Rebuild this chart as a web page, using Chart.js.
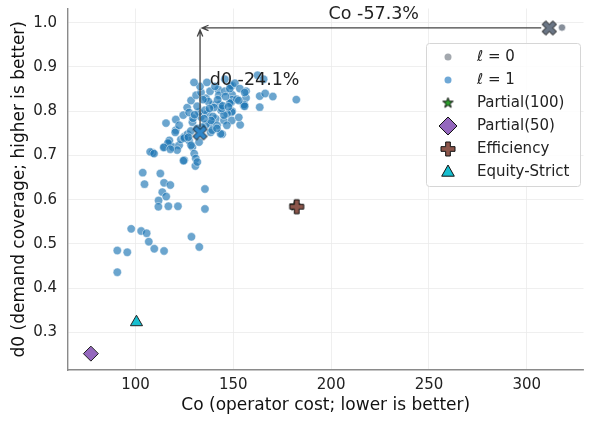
<!DOCTYPE html>
<html>
<head>
<meta charset="utf-8">
<script src="https://cdn.jsdelivr.net/npm/chart.js@4.4.1/dist/chart.umd.min.js"></script>
<style>
  html, body { margin: 0; padding: 0; background: #fff; }
  #wrap { width: 592px; height: 422px; }
</style>
</head>
<body>
<div id="wrap"><canvas id="c" width="592" height="422"></canvas></div>
<script>
//______________________________________________________
// data
var L1Co = [
  162.4, 165.5, 163.5, 166.3, 170.2, 182.2, 163.5, 153.5, 155.3, 156.5,
  156.5, 149.4, 149.4, 149.4, 149.4, 142.3, 144.3, 138.4, 126.4, 120.6,
  115.6, 120.6, 155.5, 148.6, 149.0, 149.2, 108.8, 114.7, 117.3, 119.0,
  122.3, 123.2, 124.9, 126.6, 128.3, 127.4, 129.1, 130.0, 130.8, 124.9,
  129.1, 133.4, 132.5, 136.7, 141.0, 138.4, 141.7, 143.5, 139.2, 145.2,
  146.8, 128.4, 131.0, 133.5, 136.0, 138.1, 140.6, 142.6, 145.7, 148.2,
  150.8, 153.3, 131.5, 135.5, 139.6, 143.7, 148.2, 151.8, 124.4, 129.4,
  139.6, 145.2, 149.2, 152.8, 122.3, 131.5, 136.0, 141.6, 146.7, 133.0,
  129.9, 145.7, 152.8, 155.8, 155.8, 136.5, 143.1, 138.6, 127.4, 120.3,
  117.3, 124.9, 128.4, 132.5, 121.3, 107.5, 109.5, 103.7, 104.6, 112.7,
  114.6, 117.8, 113.7, 115.7, 111.8, 111.7, 116.8, 121.7, 135.5, 135.5,
  124.5, 130.6, 131.6, 116.6, 114.4, 117.8, 97.8, 102.9, 105.7, 106.8,
  109.6, 114.6, 90.7, 95.8, 90.7, 128.6, 132.6, 134.0, 127.0, 144.0,
  137.2, 140.1, 134.5, 146.0, 142.0, 137.8, 130.2, 135.0, 144.6, 147.5
];
var L1D0 = [
  0.881, 0.872, 0.834, 0.840, 0.833, 0.826, 0.809, 0.769, 0.812, 0.830,
  0.845, 0.858, 0.837, 0.826, 0.800, 0.849, 0.748, 0.752, 0.808, 0.781,
  0.773, 0.757, 0.815, 0.858, 0.820, 0.798, 0.706, 0.719, 0.727, 0.719,
  0.723, 0.736, 0.742, 0.748, 0.755, 0.733, 0.719, 0.704, 0.693, 0.689,
  0.775, 0.787, 0.798, 0.794, 0.783, 0.772, 0.768, 0.749, 0.757, 0.779,
  0.794, 0.824, 0.836, 0.842, 0.829, 0.845, 0.856, 0.836, 0.845, 0.851,
  0.863, 0.851, 0.811, 0.802, 0.815, 0.802, 0.818, 0.827, 0.791, 0.784,
  0.788, 0.791, 0.779, 0.786, 0.768, 0.761, 0.770, 0.761, 0.768, 0.856,
  0.865, 0.872, 0.824, 0.842, 0.811, 0.865, 0.815, 0.779, 0.797, 0.752,
  0.734, 0.739, 0.723, 0.730, 0.712, 0.708, 0.704, 0.661, 0.635, 0.659,
  0.638, 0.633, 0.617, 0.607, 0.598, 0.584, 0.585, 0.585, 0.624, 0.579,
  0.688, 0.676, 0.685, 0.728, 0.718, 0.714, 0.534, 0.529, 0.524, 0.505,
  0.489, 0.484, 0.485, 0.481, 0.436, 0.516, 0.493, 0.764, 0.741, 0.806,
  0.822, 0.808, 0.826, 0.833, 0.826, 0.806, 0.792, 0.783, 0.812, 0.810
];
var L0Co = [318.0, 311.5];
var L0D0 = [0.989, 0.988];

var Partial100 = [181.5, 0.586];
var Partial50  = [77.2, 0.252];
var Efficiency = [182.4, 0.584];
var EquityStrict = [100.5, 0.323];
var BestL0 = [311.5, 0.988];
var BestL1 = [133.0, 0.751];

var CoTicks = [100, 150, 200, 250, 300];
var D0Ticks = [0.3, 0.4, 0.5, 0.6, 0.7, 0.8, 0.9, 1.0];
var CoLabel = 'Co -57.3%';
var D0Label = 'd0 -24.1%';
const FontName = '"DejaVu Sans", sans-serif';

//______________________________________________________
function toPoints (xs, ys) {
    var pts = [];
    for (var i = 0; i < xs.length; i++) pts.push({x: xs[i], y: ys[i]});
    return pts;
}
//______________________________________________________
function makeMarker (shape, size, fill) { // filled marker drawn to a small canvas
    var pad = 2;
    var cv = document.createElement('canvas');
    cv.width = size + pad*2; cv.height = size + pad*2;
    var ctx = cv.getContext('2d');
    var c = cv.width / 2, r = size / 2;
    ctx.beginPath();
    if (shape === 'star') {
        for (var i = 0; i < 10; i++) {
            var rr = (i % 2 === 0) ? r : r*0.4;
            var a = -Math.PI/2 + i*Math.PI/5;
            ctx.lineTo(c + rr*Math.cos(a), c + rr*Math.sin(a));
        }
    } else { // plus or X : a plus polygon, maybe rotated
        var t = r/3;
        var poly = [[-t,-r],[t,-r],[t,-t],[r,-t],[r,t],[t,t],[t,r],[-t,r],[-t,t],[-r,t],[-r,-t],[-t,-t]];
        var rot = (shape === 'X') ? Math.PI/4 : 0;
        poly.forEach(function(p) {
            var px = p[0]*Math.cos(rot) - p[1]*Math.sin(rot);
            var py = p[0]*Math.sin(rot) + p[1]*Math.cos(rot);
            ctx.lineTo(c + px, c + py);
        });
    }
    ctx.closePath();
    ctx.fillStyle = fill;
    ctx.fill();
    ctx.lineWidth = 1;
    ctx.strokeStyle = '#111';
    ctx.stroke();
    return cv;
}
//______________________________________________________
var legendPlugin = { // boxed legend inside the plot, top right
    id: 'boxLegend',
    afterDraw: function(chart) {
        var ctx = chart.ctx;
        var x0 = 426, y0 = 43, w = 154, h = 143;
        ctx.save();
        ctx.fillStyle = 'rgba(255,255,255,0.85)';
        ctx.strokeStyle = '#d6d6d6';
        ctx.lineWidth = 1;
        ctx.beginPath();
        ctx.roundRect(x0 + 0.5, y0 + 0.5, w, h, 3);
        ctx.fill(); ctx.stroke();
        var rowY = y0 + 14;
        chart.data.datasets.forEach(function(ds) {
            if (!ds.legendText) return;
            var mx = x0 + 22;
            if (ds.pointStyle instanceof HTMLCanvasElement) {
                var im = ds.legendImg || ds.pointStyle;
                ctx.drawImage(im, mx - im.width/2, rowY - im.height/2);
            } else if (ds.pointStyle === 'circle') {
                ctx.beginPath();
                ctx.arc(mx, rowY, 3.5, 0, Math.PI*2);
                ctx.fillStyle = ds.legendColor;
                ctx.fill();
            } else {
                ctx.beginPath();
                var r = ds.legendRadius;
                if (ds.pointStyle === 'rectRot') {
                    ctx.moveTo(mx, rowY - r); ctx.lineTo(mx + r, rowY);
                    ctx.lineTo(mx, rowY + r); ctx.lineTo(mx - r, rowY);
                } else {
                    ctx.moveTo(mx, rowY - r); ctx.lineTo(mx + r*0.9, rowY + r*0.6);
                    ctx.lineTo(mx - r*0.9, rowY + r*0.6);
                }
                ctx.closePath();
                ctx.fillStyle = ds.backgroundColor;
                ctx.fill();
                ctx.strokeStyle = '#111'; ctx.lineWidth = 1; ctx.stroke();
            }
            ctx.fillStyle = '#222';
            ctx.textBaseline = 'middle';
            var tx = x0 + 51;
            if (ds.legendMath) {
                ctx.font = 'italic 15px ' + FontName;
                ctx.fillText('ℓ', tx, rowY);
                tx += ctx.measureText('ℓ').width;
                ctx.font = '15px ' + FontName;
                ctx.fillText(' = ' + ds.legendMath, tx, rowY);
            } else {
                ctx.font = '15px ' + FontName;
                ctx.fillText(ds.legendText, tx, rowY);
            }
            rowY += 23;
        });
        ctx.restore();
    }
};
//______________________________________________________
function drawArrow (ctx, x1, y1, x2, y2) {
    var a = Math.atan2(y2 - y1, x2 - x1), hl = 7;
    ctx.beginPath();
    ctx.moveTo(x1, y1); ctx.lineTo(x2, y2);
    ctx.moveTo(x2 - hl*Math.cos(a - 0.4), y2 - hl*Math.sin(a - 0.4));
    ctx.lineTo(x2, y2);
    ctx.lineTo(x2 - hl*Math.cos(a + 0.4), y2 - hl*Math.sin(a + 0.4));
    ctx.stroke();
}
var arrowPlugin = { // the two improvement arrows and their texts
    id: 'arrows',
    afterDatasetsDraw: function(chart) {
        var ctx = chart.ctx, sx = chart.scales.x, sy = chart.scales.y;
        var x0 = sx.getPixelForValue(BestL0[0]), y0 = sy.getPixelForValue(BestL0[1]);
        var x1 = sx.getPixelForValue(BestL1[0]), y1 = sy.getPixelForValue(BestL1[1]);
        ctx.save();
        ctx.strokeStyle = '#444';
        ctx.lineWidth = 1.3;
        drawArrow(ctx, x0 - 8, y0, x1 + 2, y0);
        drawArrow(ctx, x1, y1 - 6, x1, y0 + 2);
        ctx.fillStyle = '#222';
        ctx.font = '17.5px ' + FontName;
        ctx.textAlign = 'center';
        ctx.textBaseline = 'middle';
        ctx.fillText(CoLabel, sx.getPixelForValue(221.8), sy.getPixelForValue(1.018));
        ctx.fillText(D0Label, sx.getPixelForValue(160.9), sy.getPixelForValue(0.869));
        ctx.restore();
    }
};
//______________________________________________________
var starImg  = makeMarker('star', 11, '#2ca02c');
var plusImg  = makeMarker('plus', 14, '#8c564b');
var xL0Img   = makeMarker('X', 15, '#6b7685');
var xL1Img   = makeMarker('X', 15, '#2f86c9');

var datasets = [
    { label: 'l0', legendText: 'l0', legendMath: '0', data: toPoints(L0Co, L0D0),
      pointStyle: 'circle', pointRadius: 3.6, backgroundColor: 'rgba(95,105,120,0.75)',
      borderColor: '#fff', borderWidth: 0.6, legendColor: '#a3a8ae', order: 9 },
    { label: 'l1', legendText: 'l1', legendMath: '1', data: toPoints(L1Co, L1D0),
      pointStyle: 'circle', pointRadius: 4.2, backgroundColor: 'rgba(31,119,180,0.66)',
      borderColor: 'rgba(255,255,255,0.8)', borderWidth: 0.6, legendColor: '#6fa8d6', order: 10 },
    { label: 'Partial(100)', legendText: 'Partial(100)', data: [{x: Partial100[0], y: Partial100[1]}],
      pointStyle: starImg, order: 8 },
    { label: 'Partial(50)', legendText: 'Partial(50)', data: [{x: Partial50[0], y: Partial50[1]}],
      pointStyle: 'rectRot', pointRadius: 7.5, backgroundColor: '#9467bd', borderColor: '#222',
      borderWidth: 1, legendRadius: 9, order: 7 },
    { label: 'Efficiency', legendText: 'Efficiency', data: [{x: Efficiency[0], y: Efficiency[1]}],
      pointStyle: plusImg, order: 6 },
    { label: 'Equity-Strict', legendText: 'Equity-Strict', data: [{x: EquityStrict[0], y: EquityStrict[1]}],
      pointStyle: 'triangle', pointRadius: 7, backgroundColor: '#17becf', borderColor: '#222',
      borderWidth: 1, legendRadius: 7, order: 5 },
    { label: 'best l0', data: [{x: BestL0[0], y: BestL0[1]}], pointStyle: xL0Img, order: 2 },
    { label: 'best l1', data: [{x: BestL1[0], y: BestL1[1]}], pointStyle: xL1Img, order: 1 }
];

var tickFont = { family: FontName, size: 15 };
var titleFont = { family: FontName, size: 17 };

new Chart(document.getElementById('c'), {
    type: 'scatter',
    data: { datasets: datasets },
    options: {
        responsive: false,
        animation: false,
        layout: { padding: { left: 3, right: 5, top: 8, bottom: 0 } },
        plugins: { legend: { display: false }, tooltip: { enabled: false } },
        scales: {
            x: {
                type: 'linear', min: 65.5, max: 329,
                afterBuildTicks: function(s) { s.ticks = CoTicks.map(function(v) { return {value: v}; }); },
                afterFit: function(s) { s.height = 52; s.paddingLeft = 0; s.paddingRight = 0; },
                ticks: { font: tickFont, color: '#222', padding: 6 },
                grid: { color: '#ebebeb', lineWidth: 0.8, drawTicks: false },
                border: { color: '#8a8a8a', width: 1.4 },
                title: { display: true, text: 'Co (operator cost; lower is better)', font: titleFont,
                         color: '#111', padding: { top: 2, bottom: 6 } }
            },
            y: {
                type: 'linear', min: 0.215, max: 1.032,
                afterBuildTicks: function(s) { s.ticks = D0Ticks.map(function(v) { return {value: v}; }); },
                afterFit: function(s) { s.width = 65; s.paddingTop = 0; s.paddingBottom = 0; },
                ticks: { font: tickFont, color: '#222', padding: 11,
                         callback: function(v) { return v.toFixed(1); } },
                grid: { color: '#ebebeb', lineWidth: 0.8, drawTicks: false },
                border: { color: '#8a8a8a', width: 1.4 },
                title: { display: true, text: 'd0 (demand coverage; higher is better)', font: titleFont,
                         color: '#111', padding: { top: 6, bottom: 4 } }
            }
        }
    },
    plugins: [arrowPlugin, legendPlugin]
});
</script>
</body>
</html>
